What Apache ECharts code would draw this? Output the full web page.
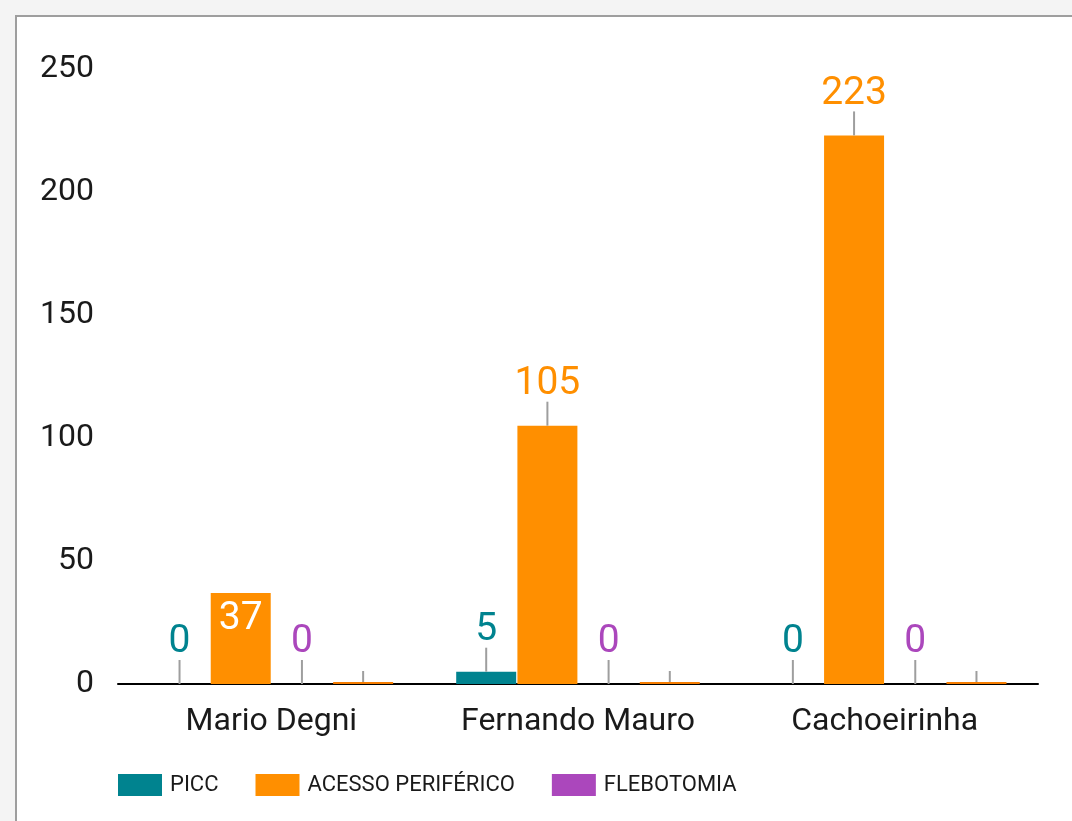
<!DOCTYPE html>
<html>
<head>
<meta charset="utf-8">
<script src="https://cdn.jsdelivr.net/npm/echarts@6/dist/echarts.min.js"></script>
<style>
	html, body { margin: 0; padding: 0; background: #f4f4f4; overflow: hidden; }
	#panel { position: absolute; left: 15px; top: 15px; width: 1200px; height: 900px; background: #fff; border-left: 2px solid #9e9e9e; border-top: 2px solid #9e9e9e; }
	#chart { position: absolute; left: 0; top: 0; width: 1072px; height: 821px; }
</style>
</head>
<body>
<div id="panel"></div>
<div id="chart"></div>
<script>
	var categories = ['Mario Degni', 'Fernando Mauro', 'Cachoeirinha'];
	var picc = [0, 5, 0];
	var acesso = [37, 105, 223];
	var flebotomia = [0, 0, 0];
	var outros = [0, 0, 0];
	var yTicks = { min: 0, max: 250, interval: 50 };

	var colors = ['#00838f', '#ff8f00', '#ab47bc', '#f57c00'];
	var barW = 60, pitch = 61.2;

	// pontos das linhas guia (categoria, valor, indice da serie)
	var guides = [];
	[picc, acesso, flebotomia, outros].forEach(function (arr, s) {
		arr.forEach(function (v, i) {
			if (s === 1 && i === 0) return; // 37 fica dentro da barra
			guides.push([i, v, s]);
		});
	});

	var labelBase = { show: true, position: 'top', distance: 22, fontSize: 39, fontFamily: 'Roboto' };

	function barSeries(name, data, idx, extra) {
		var s = {
			name: name,
			type: 'bar',
			data: data,
			barWidth: barW,
			barGap: '2%',
			itemStyle: { color: colors[idx] },
			label: Object.assign({}, labelBase, { color: colors[idx] }),
			emphasis: { disabled: true }
		};
		return Object.assign(s, extra || {});
	}

	var acessoData = acesso.map(function (v, i) {
		if (i === 0) {
			return { value: v, label: { position: 'insideTop', distance: 7, color: '#fff' } };
		}
		return v;
	});

	var option = {
		animation: false,
		textStyle: { fontFamily: 'Roboto' },
		grid: { left: 118, right: 34, top: 69, bottom: 137, containLabel: false },
		legend: {
			data: ['PICC', 'ACESSO PERIFÉRICO', 'FLEBOTOMIA'],
			left: 118,
			top: 774,
			padding: 0,
			itemWidth: 44,
			itemHeight: 22,
			itemGap: 37,
			icon: 'rect',
			textStyle: { fontSize: 22, color: '#1a1a1a', padding: [0, 0, 0, 3] },
			selectedMode: false
		},
		xAxis: {
			type: 'category',
			data: categories,
			axisLine: { lineStyle: { color: '#000', width: 2 } },
			axisTick: { show: false },
			axisLabel: { fontSize: 32, color: '#1a1a1a', margin: 22 }
		},
		yAxis: {
			type: 'value',
			min: yTicks.min,
			max: yTicks.max,
			interval: yTicks.interval,
			axisLine: { show: false },
			axisTick: { show: false },
			splitLine: { show: false },
			axisLabel: { fontSize: 32, color: '#1a1a1a', margin: 24 }
		},
		series: [
			barSeries('PICC', picc, 0),
			barSeries('ACESSO PERIFÉRICO', acessoData, 1),
			barSeries('FLEBOTOMIA', flebotomia, 2),
			barSeries('Outros', outros, 3, { barMinHeight: 2, label: { show: false } }),
			{
				type: 'custom',
				silent: true,
				z: 5,
				data: guides,
				renderItem: function (params, api) {
					var cat = api.value(0), val = api.value(1), s = api.value(2);
					var p = api.coord([cat, val]);
					var x = p[0] + (s - 1.5) * pitch;
					var y0 = s === 3 ? p[1] - 2 : p[1];
					var len = s === 3 ? 11 : 24;
					return {
						type: 'line',
						shape: { x1: x, y1: y0, x2: x, y2: y0 - len },
						style: { stroke: '#9e9e9e', lineWidth: 2 }
					};
				}
			}
		]
	};

	var myChart = echarts.init(document.getElementById('chart'));
	myChart.setOption(option);
</script>
</body>
</html>
